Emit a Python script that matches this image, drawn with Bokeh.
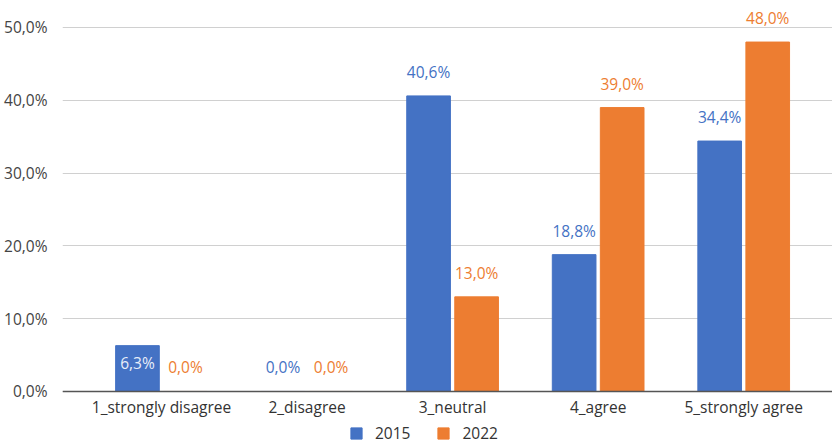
from bokeh.plotting import figure
from bokeh.models import ColumnDataSource, Range1d, FixedTicker, Legend, LegendItem, Span
from bokeh.core.properties import value
from bokeh.embed import file_html
from bokeh.resources import INLINE

categories = ["1_strongly disagree", "2_disagree", "3_neutral", "4_agree", "5_strongly agree"]
series_2015 = [6.3, 0.0, 40.6, 18.8, 34.4]
series_2022 = [0.0, 0.0, 13.0, 39.0, 48.0]
y_ticks = [0, 10, 20, 30, 40, 50]

BLUE = "#4472C4"
ORANGE = "#ED7D31"
FONT = "Open Sans"
FS = "15.5px"

def fmt(v):
    return f"{v:.1f}".replace(".", ",") + "%"

x = list(range(len(categories)))
off = 0.165
w = 0.30

src15 = ColumnDataSource(dict(x=[i - off for i in x], top=series_2015))
src22 = ColumnDataSource(dict(x=[i + off for i in x], top=series_2022,
                              lab=[fmt(v) for v in series_2022]))
cat_src = ColumnDataSource(dict(x=x, y=[0] * len(x), lab=categories))

p = figure(width=832, height=444, output_backend="svg", toolbar_location=None,
           x_range=Range1d(-0.68, 4.61), y_range=Range1d(-7.28, 53.02),
           min_border_left=62, min_border_right=0, min_border_top=5, min_border_bottom=0)
p.outline_line_color = None
p.background_fill_color = "white"

r15 = p.vbar(x="x", top="top", width=w, source=src15, color=BLUE)
r22 = p.vbar(x="x", top="top", width=w, source=src22, color=ORANGE)

# baseline (x axis line) and category labels
p.add_layout(Span(location=0, dimension="width", line_color="#555555", line_width=1.5))
p.text(x="x", y="y", text="lab", source=cat_src, text_align="center", text_baseline="middle",
       y_offset=16, text_font=value(FONT), text_font_size=FS, text_color="#333333")

# value labels (the short 2015 bar carries its label inside the bar)
above = [i for i in x if not (0 < series_2015[i] <= 10)]
inside = [i for i in x if 0 < series_2015[i] <= 10]
lab_above = ColumnDataSource(dict(x=[i - off for i in above], y=[series_2015[i] for i in above],
                                  lab=[fmt(series_2015[i]) for i in above]))
lab_inside = ColumnDataSource(dict(x=[i - off for i in inside], y=[series_2015[i] for i in inside],
                                   lab=[fmt(series_2015[i]) for i in inside]))
p.text(x="x", y="y", text="lab", source=lab_above, text_align="center", text_baseline="middle",
       y_offset=-24, text_font=value(FONT), text_font_size=FS, text_color=BLUE)
p.text(x="x", y="y", text="lab", source=lab_inside, text_align="center", text_baseline="middle",
       y_offset=17, text_font=value(FONT), text_font_size=FS, text_color="#e8eef9")
p.text(x="x", y="top", text="lab", source=src22, text_align="center", text_baseline="middle",
       y_offset=-24, text_font=value(FONT), text_font_size=FS, text_color=ORANGE)

# y axis
p.yaxis.ticker = FixedTicker(ticks=y_ticks)
p.yaxis.major_label_overrides = {t: fmt(t) for t in y_ticks}
p.yaxis.axis_line_color = None
p.yaxis.major_tick_line_color = None
p.yaxis.minor_tick_line_color = None
p.yaxis.major_label_standoff = 9
p.yaxis.major_label_text_font = FONT
p.yaxis.major_label_text_font_size = FS
p.yaxis.major_label_text_color = "#444444"

p.xaxis.visible = False
p.xgrid.grid_line_color = None
p.ygrid.grid_line_color = "#d0d0d0"
p.ygrid.grid_line_width = 1.2

legend = Legend(items=[LegendItem(label="2015", renderers=[r15]),
                       LegendItem(label="2022", renderers=[r22])],
                orientation="horizontal", location=(287, 0),
                glyph_width=14, glyph_height=14, label_height=14,
                label_text_font=FONT, label_text_baseline="middle",
                label_text_font_size=FS, label_text_color="#333333",
                border_line_color=None, background_fill_alpha=0,
                spacing=26, label_standoff=12, padding=0, margin=0)
p.add_layout(legend, "center")

open("out.html", "w").write(file_html(p, INLINE))
